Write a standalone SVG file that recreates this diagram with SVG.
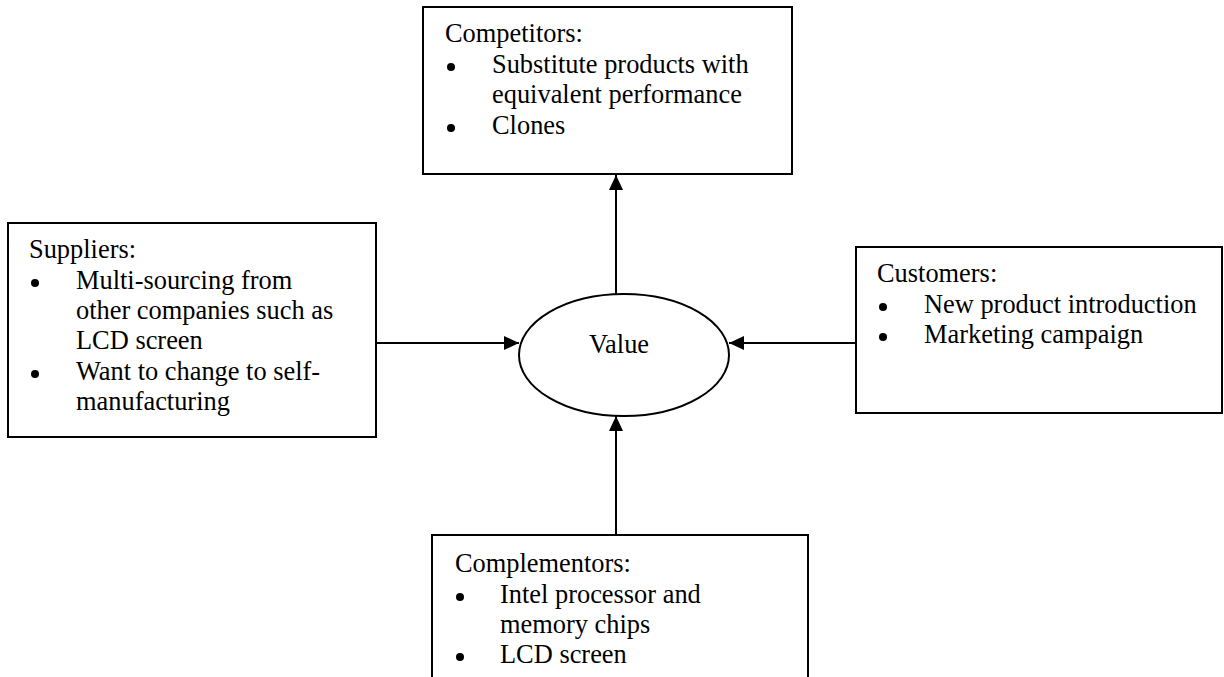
<svg xmlns="http://www.w3.org/2000/svg" width="1224" height="677" viewBox="0 0 1224 677">
  <defs>
    <style>
      .box { fill: #ffffff; stroke: #000000; stroke-width: 2; }
      .edge { fill: none; stroke: #000000; stroke-width: 2; }
      .dot { fill: #000000; }
      text { font-family: "Liberation Serif", "Times New Roman", serif; font-size: 26.4px; fill: #000000; }
      .mid { text-anchor: middle; }
    </style>
    <marker id="arrow" viewBox="0 0 15 14" refX="15" refY="7" markerWidth="15" markerHeight="14" markerUnits="userSpaceOnUse" orient="auto">
      <path d="M0,0 L15,7 L0,14 Z" fill="#000000"/>
    </marker>
  </defs>
  <rect width="1224" height="677" fill="#ffffff"/>

  <!-- connectors -->
  <g id="connectors">
    <line class="edge" x1="616" y1="295" x2="616" y2="175" marker-end="url(#arrow)"/>
    <line class="edge" x1="376" y1="343" x2="519" y2="343" marker-end="url(#arrow)"/>
    <line class="edge" x1="856" y1="343" x2="729" y2="343" marker-end="url(#arrow)"/>
    <line class="edge" x1="616" y1="535" x2="616" y2="416" marker-end="url(#arrow)"/>
  </g>

  <!-- centre -->
  <g id="value">
    <ellipse class="box" cx="624" cy="355" rx="105" ry="61"/>
    <text class="mid" x="619" y="353">Value</text>
  </g>

  <g id="competitors">
    <rect class="box" x="423" y="7" width="369" height="167"/>
    <text x="445" y="42">Competitors:</text>
    <circle class="dot" cx="451" cy="67" r="4"/>
    <text x="492" y="73">Substitute products with</text>
    <text x="492" y="103">equivalent performance</text>
    <circle class="dot" cx="451" cy="128" r="4"/>
    <text x="492" y="134">Clones</text>
  </g>

  <g id="suppliers">
    <rect class="box" x="8" y="223" width="368" height="214"/>
    <text x="29" y="258">Suppliers:</text>
    <circle class="dot" cx="35" cy="283" r="4"/>
    <text x="76" y="289">Multi-sourcing from</text>
    <text x="76" y="319">other companies such as</text>
    <text x="76" y="349">LCD screen</text>
    <circle class="dot" cx="35" cy="374" r="4"/>
    <text x="76" y="380">Want to change to self-</text>
    <text x="76" y="410">manufacturing</text>
  </g>

  <g id="customers">
    <rect class="box" x="856" y="247" width="366" height="166"/>
    <text x="877" y="282">Customers:</text>
    <circle class="dot" cx="883" cy="307" r="4"/>
    <text x="924" y="313">New product introduction</text>
    <circle class="dot" cx="883" cy="337" r="4"/>
    <text x="924" y="343">Marketing campaign</text>
  </g>

  <g id="complementors">
    <rect class="box" x="432" y="535" width="376" height="160"/>
    <text x="455" y="572">Complementors:</text>
    <circle class="dot" cx="460" cy="597" r="4"/>
    <text x="500" y="603">Intel processor and</text>
    <text x="500" y="633">memory chips</text>
    <circle class="dot" cx="460" cy="657" r="4"/>
    <text x="500" y="663">LCD screen</text>
  </g>
</svg>
